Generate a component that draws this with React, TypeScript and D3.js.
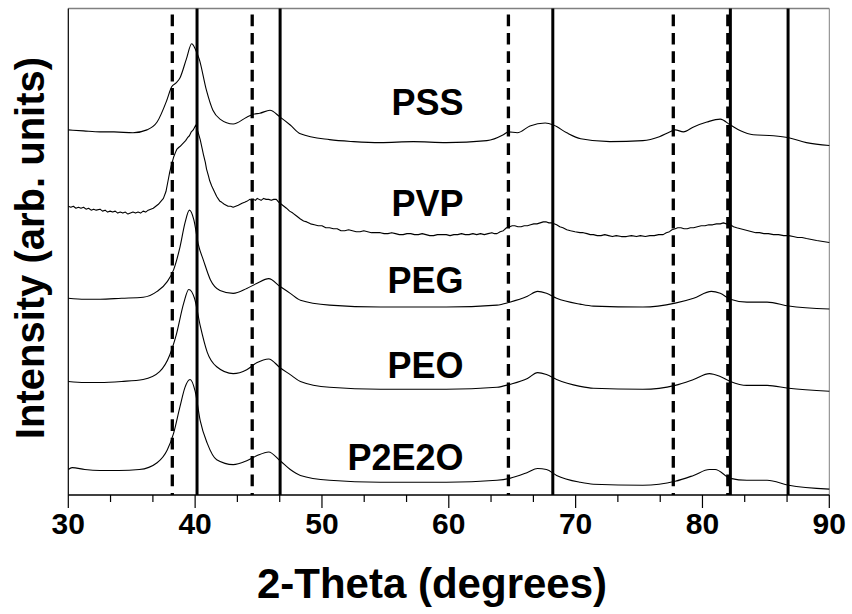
import React from "react";
import * as d3 from "d3";

// 2θ (degrees) and intensity (arb. units) pairs for each stabiliser
const pss: [number, number][] = [
  [30, 373], [31.2, 372], [32.5, 371], [33.6, 371], [35.1, 370], [36.2, 373], [37.0, 381], [37.76, 403],
  [38.15, 417], [38.5, 421], [38.8, 426], [39.3, 445], [39.73, 461], [40.0, 456], [40.33, 445], [40.9, 413],
  [41.4, 393], [41.96, 384], [43.0, 379], [44.07, 386], [44.6, 389], [45.1, 390], [45.9, 393],
  [46.7, 386], [47.5, 378], [48.3, 369], [50.6, 363], [52.5, 361], [54.6, 360], [57.2, 361], [59.8, 360],
  [63.0, 362], [64.3, 368], [64.7, 371], [65.4, 370], [66.4, 377], [67.6, 380], [68.25, 378],
  [69.3, 370], [70.4, 364], [72.7, 361], [75.3, 362], [76.6, 366], [77.45, 371], [77.85, 373],
  [78.5, 371], [79.3, 376], [80.35, 381], [81.4, 384], [82.2, 378], [83.0, 372], [84.0, 368],
  [85.6, 367], [86.8, 365], [88.2, 360], [90, 357],
];

const pvp: [number, number][] = [
  [30, 295], [30.2, 294], [30.4, 295], [30.6, 293], [30.8, 294], [31.0, 293], [31.2, 294], [31.4, 292],
  [31.6, 293], [31.8, 291], [32.0, 292], [32.2, 291], [32.5, 292], [32.7, 290], [32.9, 291], [33.1, 289],
  [33.3, 290], [33.5, 289], [33.7, 290], [33.9, 288], [34.1, 289], [34.3, 288], [34.5, 289], [34.7, 287],
  [34.9, 288], [35.1, 289], [35.3, 288], [35.5, 289], [35.7, 288], [35.9, 290], [36.1, 289], [36.3, 291],
  [36.5, 292], [36.7, 293], [36.9, 295], [37.1, 297], [37.3, 300], [37.5, 303], [37.7, 310], [37.85, 320],
  [38.0, 330], [38.15, 338], [38.3, 345], [38.45, 350], [38.55, 353], [38.7, 355], [38.8, 356], [38.95, 358],
  [39.1, 360], [39.25, 362], [39.4, 365], [39.55, 367], [39.7, 371], [39.85, 373], [40.05, 378], [40.2, 372],
  [40.4, 363], [40.55, 354], [40.65, 348], [40.8, 340], [40.9, 333], [41.05, 326], [41.15, 321], [41.3, 316],
  [41.4, 313], [41.55, 309], [41.7, 305], [41.85, 302], [41.96, 300], [42.1, 299], [42.3, 297], [42.45, 296],
  [42.6, 295], [42.8, 295], [43.0, 294], [43.2, 295], [43.4, 296], [43.55, 297], [43.7, 298], [43.9, 299],
  [44.07, 300], [44.2, 301], [44.3, 302], [44.45, 301], [44.6, 302], [44.75, 301], [44.9, 303], [45.05, 302],
  [45.2, 301], [45.4, 303], [45.6, 302], [45.8, 302], [46.0, 301], [46.2, 302], [46.4, 302], [46.6, 299],
  [46.8, 297], [47.0, 295], [47.2, 293], [47.45, 290], [47.7, 288], [48.0, 285], [48.3, 282], [48.55, 280],
  [48.8, 279], [49.1, 277], [49.4, 276], [49.7, 275], [50.0, 275], [50.3, 273], [50.6, 273], [50.9, 272],
  [51.2, 272], [51.5, 270], [51.8, 270], [52.1, 271], [52.4, 270], [52.7, 269], [53.0, 269], [53.3, 270],
  [53.6, 269], [53.9, 268], [54.2, 268], [54.6, 268], [54.9, 267], [55.2, 267], [55.5, 268], [55.8, 267],
  [56.1, 266], [56.4, 266], [56.7, 267], [57.0, 267], [57.3, 266], [57.6, 266], [57.9, 267], [58.2, 266],
  [58.5, 265], [58.8, 265], [59.1, 266], [59.4, 266], [59.8, 266], [60.1, 265], [60.4, 266], [60.7, 266],
  [61.0, 267], [61.3, 266], [61.6, 266], [61.9, 267], [62.2, 266], [62.5, 267], [62.8, 266], [63.1, 267],
  [63.4, 268], [63.6, 267], [63.8, 267], [64.05, 269], [64.3, 270], [64.55, 273], [64.8, 274], [65.0, 275],
  [65.2, 275], [65.45, 274], [65.7, 274], [65.95, 275], [66.2, 275], [66.45, 276], [66.7, 277], [66.95, 277],
  [67.2, 278], [67.45, 279], [67.7, 279], [67.9, 278], [68.1, 278], [68.3, 277], [68.5, 276], [68.75, 274],
  [69.0, 273], [69.3, 271], [69.6, 270], [69.95, 269], [70.35, 268], [70.6, 268], [70.9, 267], [71.15, 266],
  [71.4, 266], [71.7, 265], [72.0, 265], [72.3, 266], [72.6, 265], [72.9, 264], [73.2, 265], [73.6, 264],
  [74.0, 264], [74.4, 265], [74.8, 264], [75.1, 265], [75.5, 264], [75.85, 265], [76.2, 265], [76.55, 266],
  [76.9, 266], [77.15, 268], [77.4, 269], [77.6, 271], [77.85, 272], [78.05, 273], [78.3, 273], [78.55, 272],
  [78.8, 272], [79.05, 273], [79.3, 273], [79.6, 274], [79.9, 275], [80.2, 275], [80.5, 276], [80.8, 276],
  [81.1, 277], [81.4, 277], [81.65, 278], [81.9, 277], [82.2, 276], [82.45, 274], [82.7, 273], [83.0, 272],
  [83.3, 271], [83.6, 270], [83.9, 269], [84.2, 268], [84.5, 268], [84.85, 267], [85.2, 267], [85.6, 266],
  [86.0, 266], [86.4, 265], [86.8, 265], [87.15, 264], [87.5, 263], [87.85, 263], [88.2, 262], [88.6, 261],
  [89.0, 260], [89.5, 259], [90, 258],
];

const peg: [number, number][] = [
  [30, 201], [31.3, 200], [32.5, 200], [34.2, 201], [35.9, 202], [37.0, 208], [37.8, 218], [38.3, 230],
  [38.8, 253], [39.2, 278], [39.55, 291], [39.9, 281], [40.25, 256], [40.65, 240], [41.2, 220],
  [41.96, 209], [43.0, 206], [44.07, 211], [44.85, 216], [45.8, 221], [46.7, 213], [47.5, 206],
  [48.3, 199], [50.6, 194], [54.6, 192], [59.8, 192], [63.8, 194], [64.8, 197], [66.2, 203],
  [67.0, 208], [67.7, 206], [68.5, 201], [70.35, 195], [71.4, 193], [75.3, 192], [77.85, 196],
  [79.3, 201], [80.7, 208], [81.4, 206], [82.2, 200], [83.5, 197], [85.1, 197], [86.8, 193], [90, 190],
];

const peo: [number, number][] = [
  [30, 116], [31.3, 115], [32.5, 115], [34.2, 116], [35.9, 118], [37.2, 126], [38.0, 143], [38.5, 163],
  [39.1, 196], [39.5, 210], [39.95, 201], [40.4, 173], [40.95, 146], [41.7, 131], [43.0, 124],
  [44.07, 128], [44.85, 135], [45.8, 139], [46.7, 130], [47.5, 123], [48.3, 116], [50.6, 110],
  [54.6, 108], [59.8, 108], [63.8, 110], [64.8, 113], [66.2, 119], [67.0, 125], [67.7, 123],
  [68.5, 118], [70.35, 111], [71.4, 109], [75.3, 108], [77.85, 112], [79.3, 118], [80.55, 124],
  [81.4, 121], [82.2, 116], [83.5, 112], [85.1, 112], [86.8, 109], [90, 106],
];

const p2e2o: [number, number][] = [
  [30, 26], [30.3, 28], [31.3, 26], [32.5, 25], [34.0, 25], [35.6, 26], [37.0, 33], [37.8, 46],
  [38.3, 63], [38.8, 90], [39.2, 110], [39.6, 118], [40.0, 106], [40.4, 76], [40.95, 53],
  [41.7, 36], [43.0, 31], [44.07, 35], [44.85, 40], [45.8, 44], [46.7, 35], [47.5, 26], [48.3, 20],
  [50.6, 15], [54.6, 13], [59.8, 13], [63.8, 15], [64.8, 17], [66.2, 23], [67.0, 27], [67.7, 26],
  [68.5, 20], [70.35, 13], [71.4, 11], [75.3, 10], [77.85, 14], [79.3, 20], [80.55, 26], [81.0, 26],
  [82.2, 17], [83.5, 15], [85.1, 15], [86.8, 10], [90, 6],
];

const seriesNames = ["PSS", "PVP", "PEG", "PEO", "P2E2O"];
const seriesData = [pss, pvp, peg, peo, p2e2o];
// label baselines, in intensity units
const labelLevels = [388, 285, 206, 120, 26];

// reference reflections: Au (dashed) and Pd (solid)
const auLines = [38.2, 44.5, 64.7, 77.7, 82.0];
const pdLines = [40.15, 46.7, 68.2, 82.2, 86.75];

const majorTicks = [30, 40, 50, 60, 70, 80, 90];
const minorTicks = [33.33, 36.67, 43.33, 46.67, 53.33, 56.67, 63.33, 66.67, 73.33, 76.67, 83.33, 86.67];

const W = 852;
const H = 614;
const left = 68.3;
const right = 829.3;
const top = 8.5;
const bottom = 495;
const FONT = "'Liberation Sans', Arial, Helvetica, sans-serif";

export default function App() {
  const x = d3.scaleLinear().domain([30, 90]).range([left, right]);
  const y = d3.scaleLinear().domain([0, 497]).range([bottom, top]);
  const smooth = d3
    .line<[number, number]>()
    .x((d) => x(d[0]))
    .y((d) => y(d[1]))
    .curve(d3.curveMonotoneX);
  const raw = d3
    .line<[number, number]>()
    .x((d) => x(d[0]))
    .y((d) => y(d[1]));

  return (
    <svg
      width={W}
      height={H}
      viewBox={`0 0 ${W} ${H}`}
      style={{ position: "absolute", left: 0, top: 0, background: "#fff" }}
    >
      <rect x={0} y={0} width={W} height={H} fill="#fff" />

      {/* frame */}
      <line x1={left} x2={right} y1={top} y2={top} stroke="#808080" strokeWidth={1.5} />
      <line x1={right} x2={right} y1={top} y2={bottom} stroke="#808080" strokeWidth={1} />

      {/* Au reference lines */}
      {auLines.map((v, i) => (
        <line
          key={`au${i}`}
          x1={x(v)}
          x2={x(v)}
          y1={top + 6}
          y2={bottom}
          stroke="#000"
          strokeWidth={3.3}
          strokeDasharray="11.7 6.7"
        />
      ))}
      {/* Pd reference lines */}
      {pdLines.map((v, i) => (
        <line key={`pd${i}`} x1={x(v)} x2={x(v)} y1={top} y2={bottom} stroke="#000" strokeWidth={3} />
      ))}

      {/* patterns */}
      {seriesData.map((d, i) => (
        <path
          key={seriesNames[i]}
          d={(seriesNames[i] === "PVP" ? raw(d) : smooth(d)) ?? ""}
          fill="none"
          stroke="#000"
          strokeWidth={1.1}
          strokeLinejoin="round"
        />
      ))}

      {/* pattern labels */}
      {seriesNames.map((n, i) => (
        <text
          key={`lab${n}`}
          x={463.5}
          y={y(labelLevels[i])}
          textAnchor="end"
          fontFamily={FONT}
          fontWeight="bold"
          fontSize={36}
          fill="#000"
        >
          {n}
        </text>
      ))}

      {/* axes */}
      <line x1={left} x2={left} y1={top} y2={bottom} stroke="#000" strokeWidth={1.2} />
      <line x1={left} x2={right} y1={bottom} y2={bottom} stroke="#000" strokeWidth={1.5} />
      {majorTicks.map((t) => (
        <g key={`mt${t}`}>
          <line x1={x(t)} x2={x(t)} y1={bottom} y2={bottom + 13} stroke="#000" strokeWidth={1.2} />
          <text
            x={x(t)}
            y={534}
            textAnchor="middle"
            fontFamily={FONT}
            fontWeight="bold"
            fontSize={30}
            fill="#000"
          >
            {t}
          </text>
        </g>
      ))}
      {minorTicks.map((t) => (
        <line key={`mn${t}`} x1={x(t)} x2={x(t)} y1={bottom} y2={bottom + 7} stroke="#000" strokeWidth={1.2} />
      ))}

      {/* axis titles */}
      <text
        x={432}
        y={598}
        textAnchor="middle"
        fontFamily={FONT}
        fontWeight="bold"
        fontSize={42}
        fill="#000"
      >
        2-Theta (degrees)
      </text>
      <text
        transform={`translate(44, 248) rotate(-90)`}
        textAnchor="middle"
        fontFamily={FONT}
        fontWeight="bold"
        fontSize={40}
        fill="#000"
      >
        Intensity (arb. units)
      </text>
    </svg>
  );
}
